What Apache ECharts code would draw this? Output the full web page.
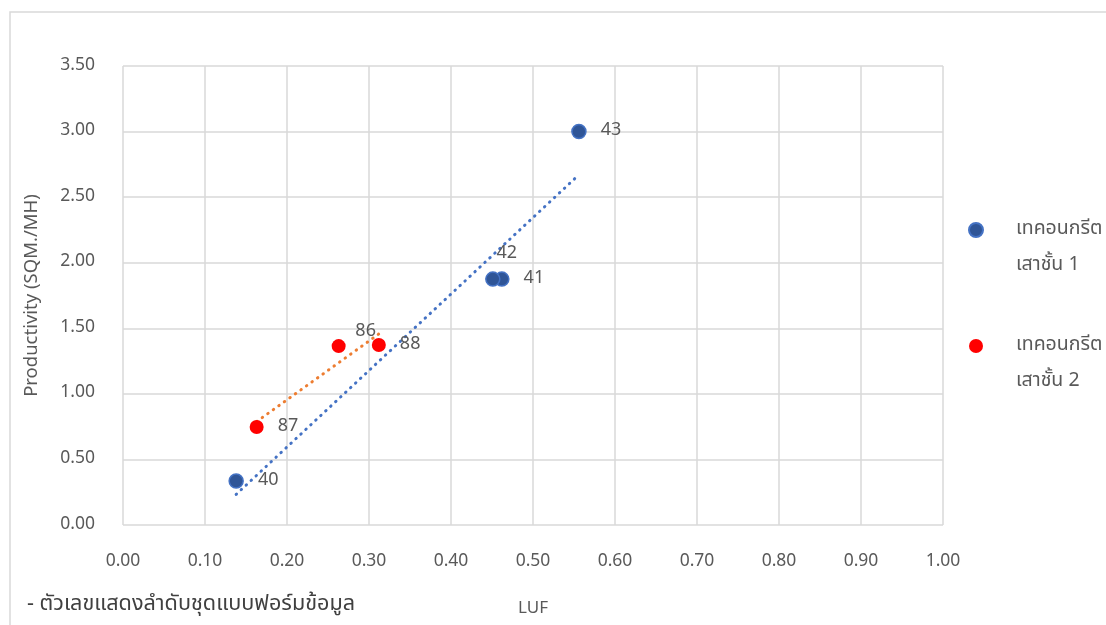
<!DOCTYPE html>
<html><head><meta charset="utf-8">
<script src="https://cdn.jsdelivr.net/npm/echarts@6/dist/echarts.min.js"></script>
<style>html,body{margin:0;padding:0;background:#fff}#c{width:1106px;height:625px}</style>
</head><body><div id="c"></div>
<script>
const FONT = '"Noto Sans Thai","Tahoma","Noto Sans",sans-serif';
// Series 1: เทคอนกรีตเสาชั้น 1
const s1Name = 'เทคอนกรีต\nเสาชั้น 1';
const s1Luf = [0.138, 0.462, 0.451, 0.556];
const s1Prod = [0.335, 1.875, 1.875, 3.00];
const s1Labels = ['40', '41', '42', '43'];
// Series 2: เทคอนกรีตเสาชั้น 2
const s2Name = 'เทคอนกรีต\nเสาชั้น 2';
const s2Luf = [0.263, 0.163, 0.312];
const s2Prod = [1.364, 0.747, 1.372];
const s2Labels = ['86', '87', '88'];
const xTicks = [0, 0.1, 0.2, 0.3, 0.4, 0.5, 0.6, 0.7, 0.8, 0.9, 1.0];
const yTicks = [0, 0.5, 1, 1.5, 2, 2.5, 3, 3.5];

// label placement styling (not data)
const labelOffsets = {'42': {position: 'top', offset: [14, 6]}, '86': {position: 'top', offset: [27, 16]}};

function fit(xs, ys) {
  const n = xs.length;
  const mx = xs.reduce((a, b) => a + b, 0) / n, my = ys.reduce((a, b) => a + b, 0) / n;
  let sxy = 0, sxx = 0;
  for (let i = 0; i < n; i++) { sxy += (xs[i] - mx) * (ys[i] - my); sxx += (xs[i] - mx) ** 2; }
  const b = sxy / sxx, a = my - b * mx;
  const x0 = Math.min(...xs), x1 = Math.max(...xs);
  return [[x0, a + b * x0], [x1, a + b * x1]];
}
function pts(xs, ys, labels) {
  return xs.map((x, i) => {
    const o = {value: [x, ys[i], labels[i]]};
    if (labelOffsets[labels[i]]) o.label = labelOffsets[labels[i]];
    return o;
  });
}
const chart = echarts.init(document.getElementById('c'));
const labelStyle = {show: true, position: 'right', distance: 14, formatter: p => p.value[2], color: '#595959', fontSize: 18, fontFamily: FONT};
chart.setOption({
  animation: false,
  textStyle: {fontFamily: FONT},
  grid: {left: 123, right: 163, top: 66, bottom: 100},
  xAxis: {
    type: 'value', min: 0, max: 1, interval: 0.1,
    name: 'LUF', nameLocation: 'middle', nameGap: 76,
    nameTextStyle: {color: '#595959', fontSize: 17, fontFamily: FONT},
    axisLine: {show: false}, axisTick: {show: false},
    axisLabel: {color: '#595959', fontSize: 17.5, margin: 28, formatter: v => v.toFixed(2)},
    splitLine: {show: true, lineStyle: {color: '#d9d9d9', width: 1.5}}
  },
  yAxis: {
    type: 'value', min: 0, max: 3.5, interval: 0.5,
    name: 'Productivity (SQM./MH)', nameLocation: 'middle', nameGap: 80,
    nameTextStyle: {color: '#595959', fontSize: 18.5, fontFamily: FONT},
    axisLine: {show: false}, axisTick: {show: false},
    axisLabel: {color: '#595959', fontSize: 17.5, margin: 28, formatter: v => v.toFixed(2)},
    splitLine: {show: true, lineStyle: {color: '#d9d9d9', width: 1.5}}
  },
  legend: {
    orient: 'vertical', left: 968, top: 176, padding: 0, itemGap: 8,
    itemWidth: 14, itemHeight: 14, icon: 'circle',
    data: [s1Name, s2Name],
    formatter: n => '\n' + n,
    textStyle: {color: '#595959', fontSize: 19.5, lineHeight: 36, padding: [0, 0, 0, 28], fontFamily: FONT}
  },
  graphic: [
    {type: 'rect', shape: {x: 10, y: 12, width: 1200, height: 700}, style: {fill: 'none', stroke: '#d9d9d9', lineWidth: 1.5}, silent: true},
    {type: 'text', left: 27, top: 595, style: {text: '- ตัวเลขแสดงลำดับชุดแบบฟอร์มข้อมูล', fill: '#404040', fontSize: 21.6, fontFamily: FONT}}
  ],
  series: [
    {type: 'line', data: fit(s1Luf, s1Prod), showSymbol: false, symbol: 'none', silent: true,
     lineStyle: {color: '#4472C4', width: 3, type: [0.5, 6.3], cap: 'round'}, z: 1},
    {type: 'line', data: fit(s2Luf, s2Prod), showSymbol: false, symbol: 'none', silent: true,
     lineStyle: {color: '#ED7D31', width: 3, type: [0.5, 6.3], cap: 'round'}, z: 1},
    {name: s1Name, type: 'scatter', symbolSize: 14, data: pts(s1Luf, s1Prod, s1Labels),
     itemStyle: {color: '#2F5597', borderColor: '#4472C4', borderWidth: 1.5, opacity: 1}, label: labelStyle, z: 3},
    {name: s2Name, type: 'scatter', symbolSize: 14, data: pts(s2Luf, s2Prod, s2Labels),
     itemStyle: {color: '#FF0000', opacity: 1}, label: labelStyle, z: 3}
  ]
});
</script></body></html>
